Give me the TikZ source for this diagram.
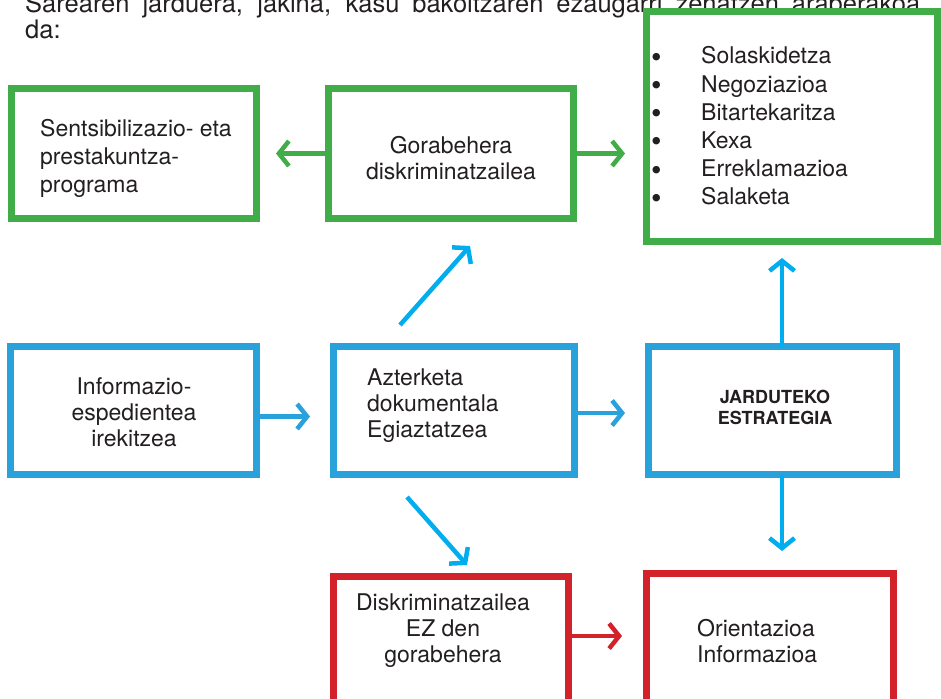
\documentclass[tikz,border=0pt]{standalone}
\usepackage{fontspec}
\setmainfont{TeX Gyre Heros}
\usetikzlibrary{arrows.meta}
\definecolor{gr}{RGB}{64,173,73}
\definecolor{bl}{RGB}{41,161,219}
\definecolor{cy}{RGB}{0,174,239}
\definecolor{rd}{RGB}{210,35,42}
\definecolor{tx}{RGB}{35,31,32}
\newcommand{\bulitem}{\makebox[50pt][l]{\raisebox{-3.5pt}{\smash{\fontsize{30}{0}\selectfont\textbullet}}}}
\begin{document}
\begin{tikzpicture}[x=1pt,y=-1pt,
  box/.style={draw, line width=7pt, fill=white, inner sep=0pt, outer sep=0pt},
  arr/.style={line width=4.5pt, -{Straight Barb[length=10pt,width=25pt]}},
  txt/.style={text=tx, font=\fontsize{23}{26}\selectfont, inner sep=0pt},
  every node/.append style={text=tx}]
\useasboundingbox (0,0) rectangle (941,698);
% top paragraph (partly cut)
\node[txt, anchor=base west, font=\fontsize{25.5}{27}\selectfont] (t1) at (25,12.5) {\makebox[895pt][s]{Sarearen jarduera, jakina, kasu bakoitzaren ezaugarri zehatzen araberakoa}};
\node[txt, anchor=base west, font=\fontsize{25.5}{27}\selectfont] (t2) at (25,39) {da:};
% boxes
\node[box, draw=gr, minimum width=245pt, minimum height=130pt] (A) at (134,153.5) {};
\node[box, draw=gr, minimum width=245pt, minimum height=130pt] (B) at (451,153.5) {};
\node[box, draw=gr, minimum width=291pt, minimum height=230pt] (C) at (792,126.5) {};
\node[box, draw=bl, minimum width=246pt, minimum height=128pt] (D) at (133.5,410.5) {};
\node[box, draw=bl, minimum width=241pt, minimum height=128pt] (E) at (454,410.5) {};
\node[box, draw=bl, minimum width=248pt, minimum height=128pt] (F) at (772.5,410.5) {};
\node[box, draw=rd, minimum width=235pt, minimum height=134pt] (G) at (451,643) {};
\node[box, draw=rd, minimum width=247pt, minimum height=137pt] (H) at (770,642) {};
% texts
\node[txt, anchor=west, align=left, font=\fontsize{23}{28}\selectfont] (At) at (40,158) {Sentsibilizazio- eta\\prestakuntza-\\programa};
\node[txt, align=center] (Bt) at (451,158) {Gorabehera\\diskriminatzailea};
\node[txt, anchor=west, align=left, font=\fontsize{23}{28.2}\selectfont] (Ct) at (651,127.5)
  {\bulitem Solaskidetza\\
   \bulitem Negoziazioa\\
   \bulitem Bitartekaritza\\
   \bulitem Kexa\\
   \bulitem Erreklamazioa\\
   \bulitem Salaketa};
\node[txt, align=center] (Dt) at (134,412) {Informazio-\\espedientea\\irekitzea};
\node[txt, anchor=west, align=left] (Et) at (367,406) {Azterketa\\dokumentala\\Egiaztatzea};
\node[txt, align=center, font=\bfseries\fontsize{18}{21}\selectfont] (Ft) at (775,407.5) {JARDUTEKO\\ESTRATEGIA};
\node[txt, align=center] (Gt) at (443,631) {Diskriminatzailea\\EZ den\\gorabehera};
\node[txt, anchor=west, align=left] (Ht) at (697,641) {Orientazioa\\Informazioa};
% connectors
\draw[arr, gr, shorten >=19.5pt] (B.west) -- (B.west -| A.east);
\draw[arr, gr, shorten >=21.5pt] (B.east) -- (B.east -| C.west);
\draw[arr, bl, shorten >=23.5pt] ([yshift=-6pt]D.east) -- ([yshift=-6pt]D.east -| E.west);
\draw[arr, bl, shorten >=23.5pt] ([yshift=-2.5pt]E.east) -- ([yshift=-2.5pt]E.east -| F.west);
\draw[arr, rd, shorten >=24.5pt] ([yshift=7pt]G.east) -- ([yshift=7pt]G.east -| H.west);
\draw[arr, cy, shorten >=16.5pt] ([xshift=9.5pt]F.north) -- ([xshift=9.5pt]F.north |- C.south);
\draw[arr, cy, shorten >=22.5pt] ([xshift=9.5pt]F.south) -- ([xshift=9.5pt]F.south |- H.north);
\coordinate (u1) at (400,325);
\coordinate (u2) at (470,246);
\coordinate (v1) at (407,497);
\coordinate (v2) at (467,565);
\draw[arr, cy] (u1) -- (u2);
\draw[arr, cy] (v1) -- (v2);
\end{tikzpicture}
\end{document}
